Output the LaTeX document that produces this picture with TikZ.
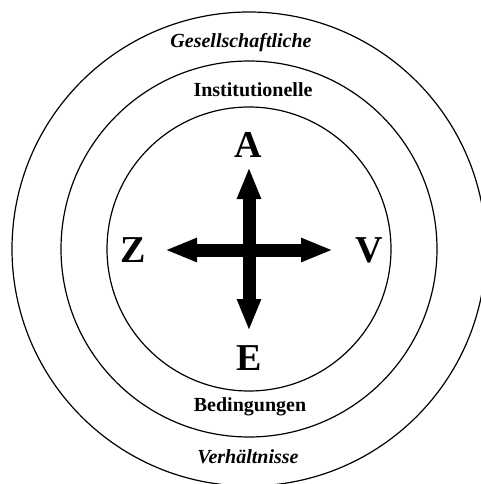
\documentclass[tikz,border=0pt]{standalone}
\usepackage{fontspec}
\setmainfont{Liberation Serif}
\usepackage{tikz}
\usetikzlibrary{arrows.meta,positioning}

\begin{document}
\begin{tikzpicture}[x=1pt,y=1pt,
        ring/.style={line width=1.2pt},
        ringlabel/.style={anchor=base,font=\fontsize{20}{24}\selectfont\bfseries},
        axislabel/.style={anchor=base,font=\fontsize{38}{44}\selectfont\bfseries},
        bigarrow/.style={line width=13pt,{Triangle[length=32pt,width=22pt]}-{Triangle[length=32pt,width=22pt]}}]
        \useasboundingbox (0,0) rectangle (481,-484);
        % the three rings
        \coordinate (c) at (249,-249);
        \draw[ring] (c) circle (237);
        \draw[ring] (c) circle (188);
        \draw[ring] (c) circle (142);
        % ring texts
        \node[ringlabel] (gesell) at (241,-48) {\itshape Gesellschaftliche};
        \node[ringlabel] (instit) at (253,-97) {Institutionelle};
        \node[ringlabel] (beding) at (250,-411) {Bedingungen};
        \node[ringlabel] (verh)   at (248,-463) {\itshape Verhältnisse};
        % the cross
        \node[axislabel] (A) at (248,-157) {A};
        \node[axislabel] (E) at (249,-370) {E};
        \node[axislabel] (Z) at (133,-262) {Z};
        \node[axislabel] (V) at (369,-262) {V};
        \coordinate (up)    at (249,-167);
        \coordinate (down)  at (249,-331);
        \coordinate (left)  at (165,-250);
        \coordinate (right) at (333,-250);
        \draw[bigarrow] (down) -- (up);
        \draw[bigarrow] (left) -- (right);
\end{tikzpicture}
\end{document}
